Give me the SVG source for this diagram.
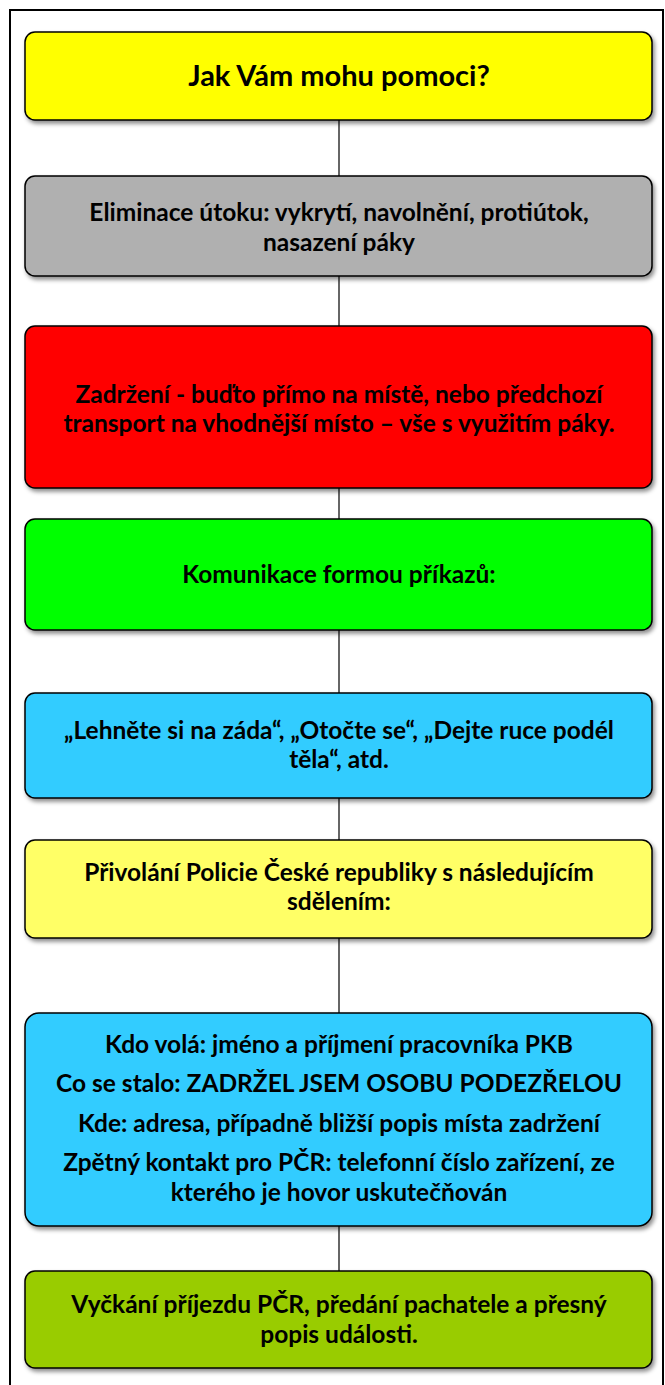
<svg xmlns="http://www.w3.org/2000/svg" width="665" height="1385" viewBox="0 0 665 1385">
<style>
.box{stroke:#000;stroke-width:1.5;filter:url(#sh)}
.t{font-family:Lato,"Liberation Sans",sans-serif;font-weight:bold;font-size:24.5px;fill:#000;text-anchor:middle}
.big{font-size:29px}
.conn{stroke:#333;stroke-width:1.5;fill:none}
</style>
<defs>
<filter id="sh" x="-5%" y="-10%" width="112%" height="130%">
<feDropShadow dx="2" dy="3" stdDeviation="2" flood-color="#000" flood-opacity="0.45"/>
</filter>
</defs>
<rect x="0" y="0" width="665" height="1385" fill="#fff"/>
<rect x="10" y="10" width="653" height="1390" fill="none" stroke="#000" stroke-width="2"/>
<g id="connectors">
<line class="conn" x1="339" y1="120" x2="339" y2="176"/>
<line class="conn" x1="339" y1="276" x2="339" y2="326"/>
<line class="conn" x1="339" y1="488" x2="339" y2="519"/>
<line class="conn" x1="339" y1="630" x2="339" y2="693"/>
<line class="conn" x1="339" y1="798" x2="339" y2="840"/>
<line class="conn" x1="339" y1="938" x2="339" y2="1013"/>
<line class="conn" x1="339" y1="1226" x2="339" y2="1271"/>
</g>
<g id="n1">
<rect class="box" x="25" y="32" width="627" height="88" rx="10" fill="#FFFF00"/>
<text class="t big" x="339" y="86">Jak Vám mohu pomoci?</text>
</g>
<g id="n2">
<rect class="box" x="25" y="176" width="627" height="100" rx="10" fill="#B0B0B0"/>
<text class="t" x="339" y="221">Eliminace útoku: vykrytí, navolnění, protiútok,</text>
<text class="t" x="339" y="251">nasazení páky</text>
</g>
<g id="n3">
<rect class="box" x="25" y="326" width="627" height="162" rx="10" fill="#FF0000"/>
<text class="t" x="339" y="403">Zadržení - buďto přímo na místě, nebo předchozí</text>
<text class="t" x="339" y="432">transport na vhodnější místo – vše s využitím páky.</text>
</g>
<g id="n4">
<rect class="box" x="25" y="519" width="627" height="111" rx="10" fill="#00FF00"/>
<text class="t" x="339" y="583">Komunikace formou příkazů:</text>
</g>
<g id="n5">
<rect class="box" x="25" y="693" width="627" height="105" rx="10" fill="#33CCFF"/>
<text class="t" x="339" y="739">„Lehněte si na záda“, „Otočte se“, „Dejte ruce podél</text>
<text class="t" x="339" y="768">těla“, atd.</text>
</g>
<g id="n6">
<rect class="box" x="25" y="840" width="627" height="98" rx="10" fill="#FFFF66"/>
<text class="t" x="339" y="881">Přivolání Policie České republiky s následujícím</text>
<text class="t" x="339" y="910">sdělením:</text>
</g>
<g id="n7">
<rect class="box" x="25" y="1013" width="627" height="213" rx="14" fill="#33CCFF"/>
<text class="t" x="339" y="1053">Kdo volá: jméno a příjmení pracovníka PKB</text>
<text class="t" x="339" y="1092">Co se stalo: ZADRŽEL JSEM OSOBU PODEZŘELOU</text>
<text class="t" x="339" y="1132">Kde: adresa, případně bližší popis místa zadržení</text>
<text class="t" x="339" y="1171">Zpětný kontakt pro PČR: telefonní číslo zařízení, ze</text>
<text class="t" x="339" y="1201">kterého je hovor uskutečňován</text>
</g>
<g id="n8">
<rect class="box" x="25" y="1271" width="627" height="97" rx="10" fill="#99CC00"/>
<text class="t" x="339" y="1313">Vyčkání příjezdu PČR, předání pachatele a přesný</text>
<text class="t" x="339" y="1343">popis události.</text>
</g>
</svg>
